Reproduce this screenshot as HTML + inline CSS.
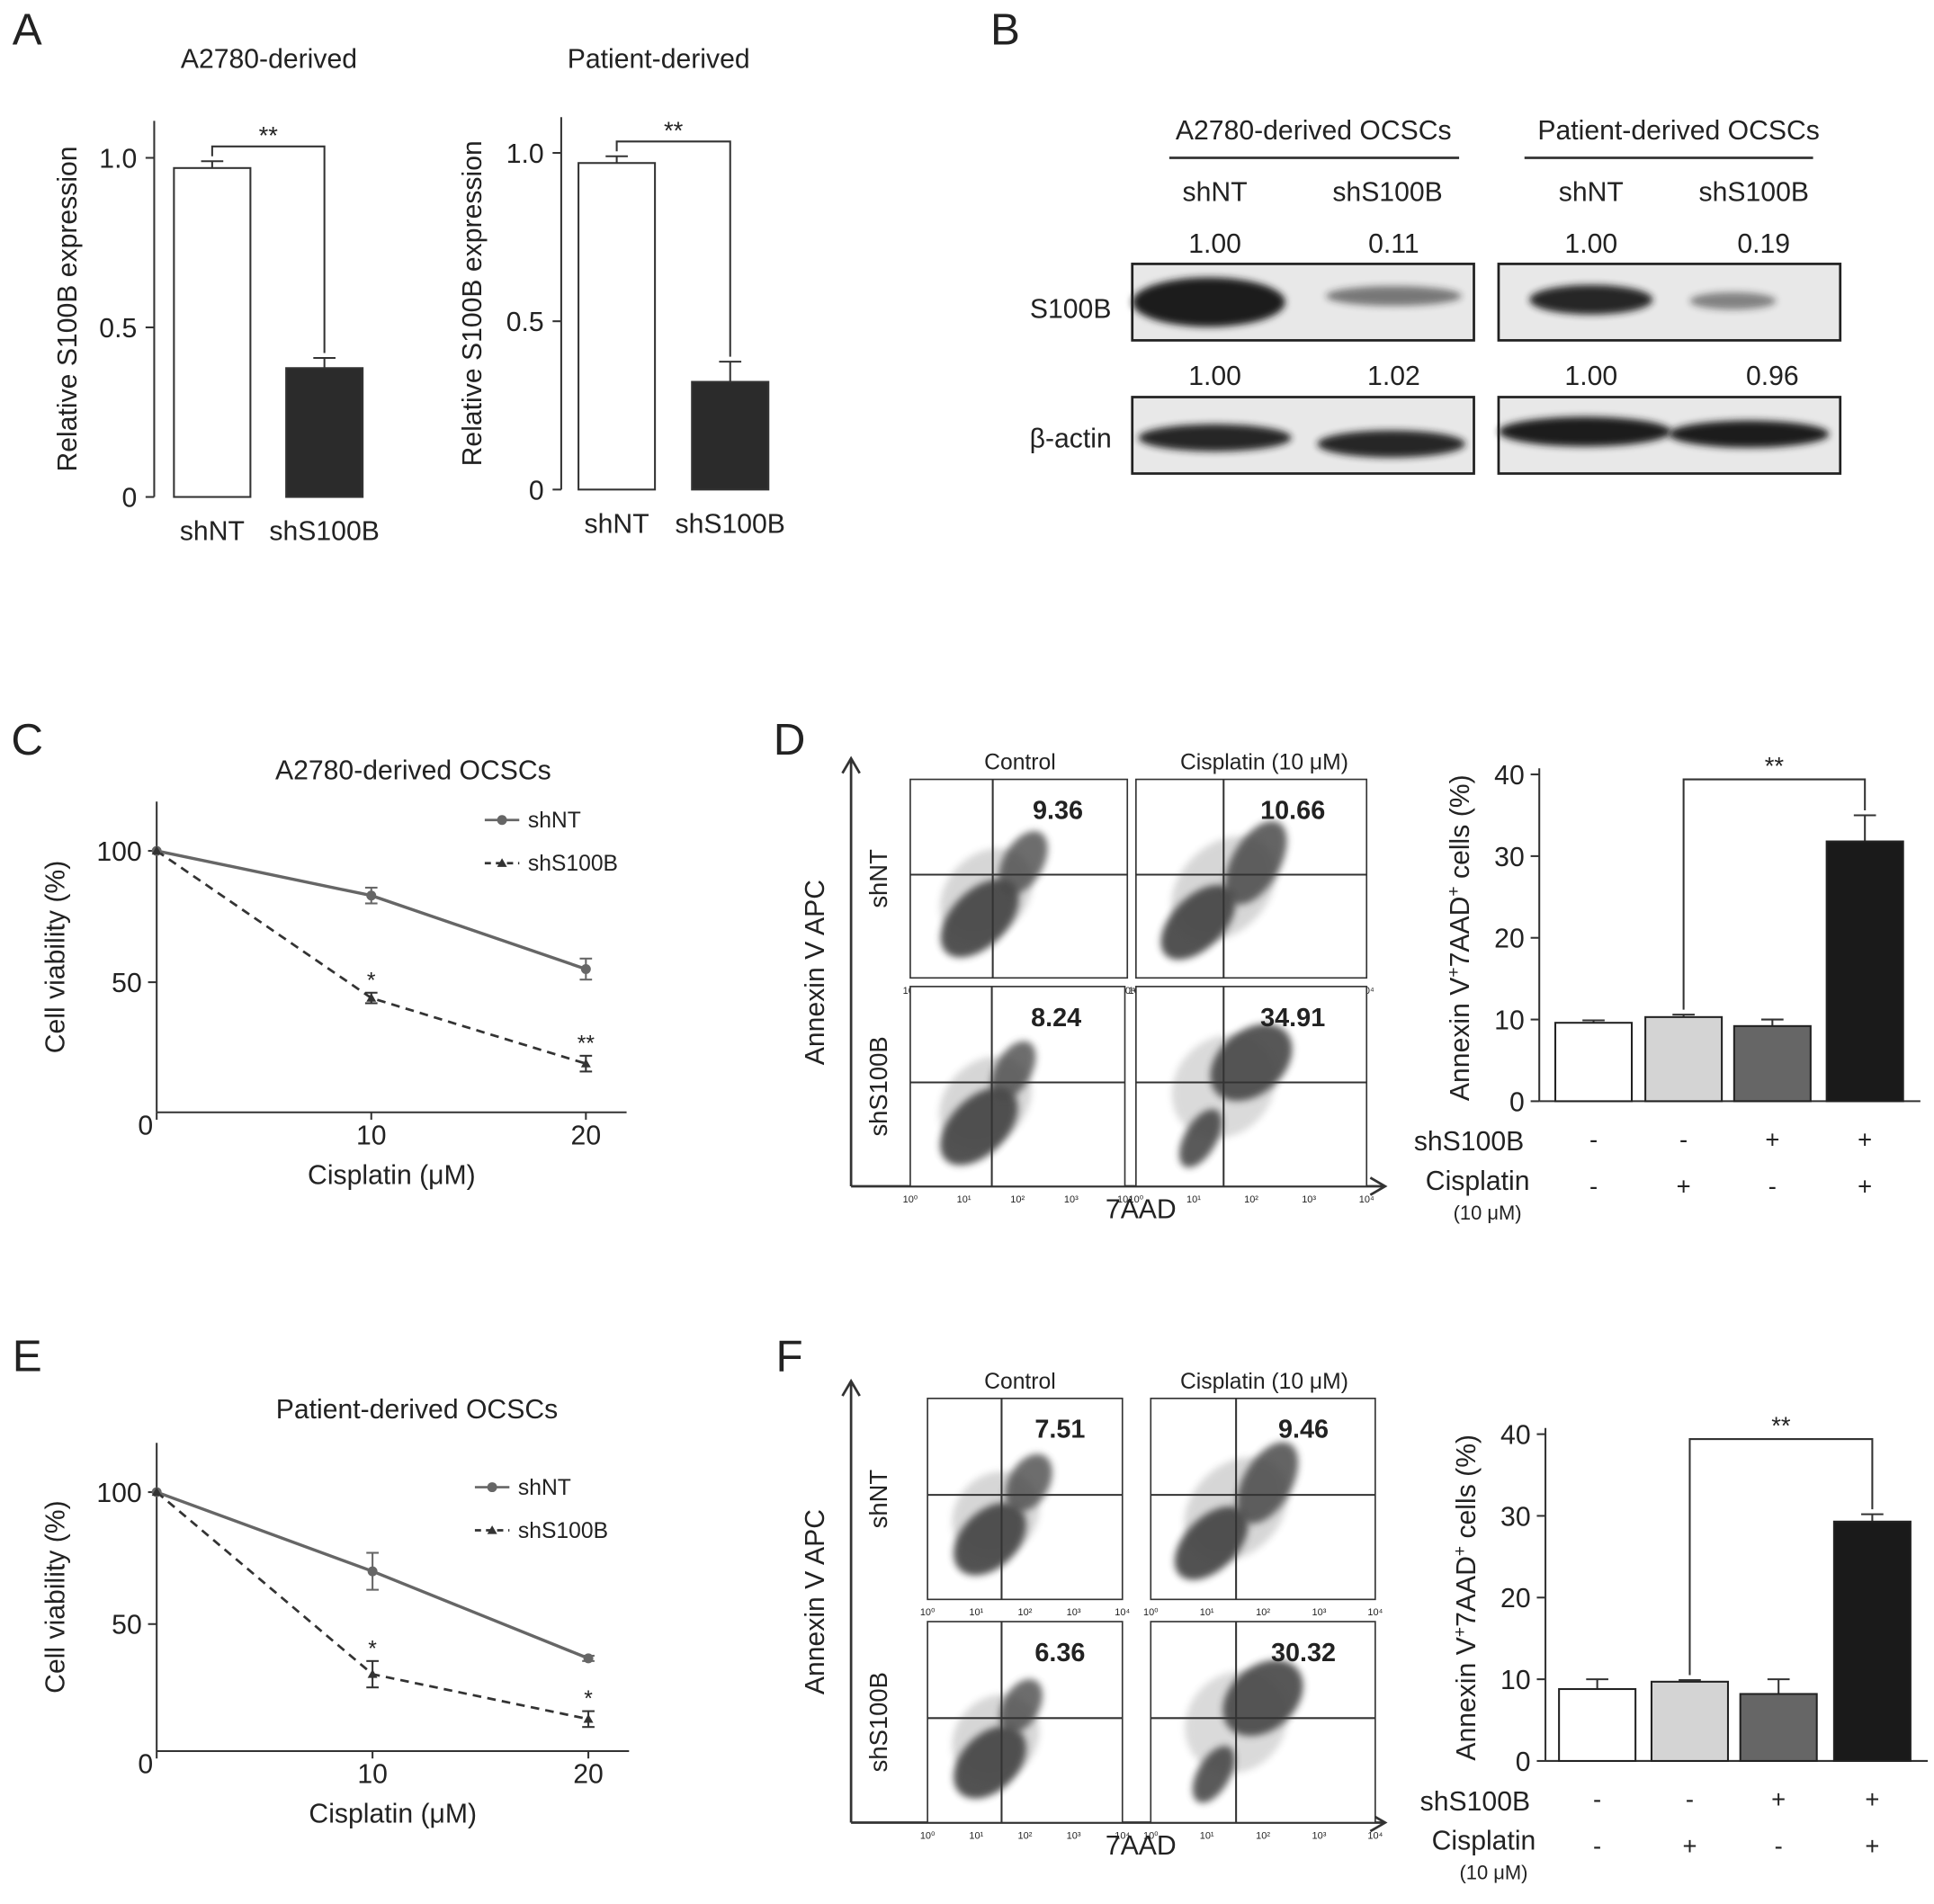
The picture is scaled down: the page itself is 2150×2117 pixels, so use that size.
<!DOCTYPE html>
<html><head><meta charset="utf-8"><style>
html,body{margin:0;padding:0;background:#fff}
svg{display:block}
text{font-family:"Liberation Sans",Arial,sans-serif;fill:#222}
</style></head><body>
<svg id="fig" width="2150" height="2117" viewBox="0 0 1568 1544" xmlns="http://www.w3.org/2000/svg">
<defs>
<filter id="blur" x="-50%" y="-50%" width="200%" height="200%"><feGaussianBlur stdDeviation="3"/></filter>
</defs>
<g id="root"></g>
</svg>
<script>
// ---------- data ----------
const aGroups = ["shNT","shS100B"];
const aA2780 = [0.97, 0.38];
const aA2780Err = [0.02, 0.03];
const aPatient = [0.97, 0.32];
const aPatientErr = [0.02, 0.06];
const aTicks = [0, 0.5, 1.0];
const aTickLabels = ["0","0.5","1.0"];

const blotHeaders = ["shNT","shS100B","shNT","shS100B"];
const blotS100B = ["1.00","0.11","1.00","0.19"];
const blotActin = ["1.00","1.02","1.00","0.96"];

const doses = [0, 10, 20];
const cShNT = [100, 83, 55];
const cShNTErr = [0, 3, 4];
const cShS = [100, 44, 19];
const cShSErr = [0, 2, 3];
const eShNT = [100, 70, 37];
const eShNTErr = [0, 7, 1];
const eShS = [100, 31, 14];
const eShSErr = [0, 5, 3];
const vTicks = [50, 100];

const flowD = ["9.36","10.66","8.24","34.91"];
const flowF = ["7.51","9.46","6.36","30.32"];

const dBars = [9.6, 10.3, 9.2, 31.8];
const dErr = [0.3, 0.3, 0.8, 3.2];
const fBars = [8.8, 9.7, 8.2, 29.3];
const fErr = [1.2, 0.2, 1.8, 0.9];
const pctTicks = [0, 10, 20, 30, 40];
const shSigns = ["-","-","+","+"];
const cisSigns = ["-","+","-","+"];

// ---------- helpers ----------
const NS="http://www.w3.org/2000/svg";
const root=document.getElementById('root');
function el(tag,attrs,parent,txt){const e=document.createElementNS(NS,tag);for(const k in attrs)e.setAttribute(k,attrs[k]);if(txt!==undefined)e.textContent=txt;(parent||root).appendChild(e);return e;}
function line(x1,y1,x2,y2,p,w,c){return el('line',{x1,y1,x2,y2,stroke:c||'#333','stroke-width':w||1.5},p);}
function txt(x,y,s,size,p,extra){const a=Object.assign({x,y,'font-size':size,'text-anchor':'middle'},extra||{});return el('text',a,p,s);}

[["A",22,36],["B",815,36],["C",22,612],["D",640,612],["E",22,1112],["F",640,1112]].forEach(([l,x,y])=>{
  const t=txt(x,y,l,36,root,{'text-anchor':'middle'});
  
  
});

// ---------- Panel A bar charts ----------
function barA(cfg,vals,errs){
  const g=el('g',{});
  
  
  const y=v=>cfg.y0-(v)*(cfg.y0-cfg.y1);
  line(cfg.ax,cfg.top,cfg.ax,cfg.y0,g,1.5);
  aTicks.forEach((t,i)=>{line(cfg.ax-7,y(t),cfg.ax,y(t),g,1.5);txt(cfg.ax-14,y(t)+8,aTickLabels[i],22,g,{'text-anchor':'end'});});
  const xs=cfg.xs;
  vals.forEach((v,i)=>{
    const r=el('rect',{x:xs[i]-31,y:y(v),width:62,height:cfg.y0-y(v),fill:i==0?'#fff':'#2b2b2b',stroke:'#333','stroke-width':1.5},g);
    
    
    line(xs[i],y(v),xs[i],y(v+errs[i]),g,1.5);
    line(xs[i]-9,y(v+errs[i]),xs[i]+9,y(v+errs[i]),g,1.5);
    txt(xs[i],cfg.y0+35,aGroups[i],22,g);
  });
  const by=y(vals[0]+errs[0])-12;
  el('polyline',{points:`${xs[0]},${y(vals[0]+errs[0])-4} ${xs[0]},${by} ${xs[1]},${by} ${xs[1]},${y(vals[1]+errs[1])-4}`,fill:'none',stroke:'#333','stroke-width':1.5},g);
  txt((xs[0]+xs[1])/2,by-2,"**",20,g);
  txt(cfg.titleX,55,cfg.title,22,g);
  txt(0,0,"Relative S100B expression",22,g,{transform:`translate(${cfg.ytx},${(cfg.top+cfg.y0)/2}) rotate(-90)`});
}
barA({name:'a2780-expression-chart',ax:125,top:98,y0:403,y1:128,xs:[172,263],title:'A2780-derived',titleX:218,ytx:62},aA2780,aA2780Err);
barA({name:'patient-expression-chart',ax:455,top:95,y0:397,y1:124,xs:[500,592],title:'Patient-derived',titleX:534,ytx:390},aPatient,aPatientErr);

// ---------- Panel B blot ----------
(function(){
  const g=el('g',{});
  
  
  txt(1065,113,"A2780-derived OCSCs",22,g);
  txt(1361,113,"Patient-derived OCSCs",22,g);
  line(948,128,1183,128,g,2);line(1236,128,1470,128,g,2);
  const cx=[985,1125,1290,1422];
  blotHeaders.forEach((h,i)=>txt(cx[i],163,h,22,g));
  blotS100B.forEach((h,i)=>txt(cx[i]+(i==1?5:i==3?8:0),205,h,22,g));
  blotActin.forEach((h,i)=>txt(cx[i]+(i==1?5:i==3?15:0),312,h,22,g));
  txt(868,258,"S100B",22,g);txt(868,363,"β-actin",22,g);
  [[918,214],[1215,214],[918,322],[1215,322]].forEach(([x,y])=>el('rect',{x,y,width:277,height:62,fill:'#e8e8e8',stroke:'#222','stroke-width':2},g));
  const bands=[[980,245,62,20,1],[1130,240,55,8,0.55],[1290,243,50,12,0.95],[1405,244,35,7,0.5],
               [985,355,62,11,0.95],[1128,360,60,11,0.95],[1285,350,70,12,1],[1418,352,65,11,1]];
  bands.forEach(([x,y,rx,ry,o])=>el('ellipse',{cx:x,cy:y,rx,ry,fill:'#1a1a1a',opacity:o,filter:'url(#blur)'},g));
})();

// ---------- line charts ----------
function lineChart(cfg,nt,ntE,ss,ssE){
  const g=el('g',{});
  
  
  const X=d=>cfg.x0+d*(cfg.x20-cfg.x0)/20;
  const Y=v=>cfg.y0-v*(cfg.y0-cfg.y100)/100;
  line(cfg.x0,cfg.top,cfg.x0,cfg.yAxis,g,1.5);
  line(cfg.x0,cfg.yAxis,cfg.right,cfg.yAxis,g,1.5);
  vTicks.forEach(t=>{line(cfg.x0-7,Y(t),cfg.x0,Y(t),g,1.5);txt(cfg.x0-12,Y(t)+8,String(t),22,g,{'text-anchor':'end'});});
  doses.forEach(d=>{line(X(d),cfg.yAxis,X(d),cfg.yAxis+6,g,1.5);txt(X(d)-(d==0?9:0),cfg.yAxis+(d==0?18:26),String(d),22,g);});
  txt((cfg.x0+cfg.right)/2,cfg.yAxis+58,"Cisplatin (μM)",22,g);
  txt(0,0,"Cell viability (%)",22,g,{transform:`translate(52,${(cfg.top+cfg.yAxis)/2}) rotate(-90)`});
  txt(cfg.titleX,cfg.titleY,cfg.title,22,g);
  const ptsA=doses.map((d,i)=>X(d)+','+Y(nt[i])).join(' ');
  const ptsB=doses.map((d,i)=>X(d)+','+Y(ss[i])).join(' ');
  const la=el('polyline',{points:ptsA,fill:'none',stroke:'#666','stroke-width':2.5},g);
  
  const lb=el('polyline',{points:ptsB,fill:'none',stroke:'#333','stroke-width':2,'stroke-dasharray':'7,5'},g);
  
  doses.forEach((d,i)=>{
    [[nt,ntE,'#666'],[ss,ssE,'#333']].forEach(([v,e,c])=>{
      if(e[i]>0){line(X(d),Y(v[i]+e[i]),X(d),Y(v[i]-e[i]),g,1.5,c);line(X(d)-5,Y(v[i]+e[i]),X(d)+5,Y(v[i]+e[i]),g,1.5,c);line(X(d)-5,Y(v[i]-e[i]),X(d)+5,Y(v[i]-e[i]),g,1.5,c);}
    });
    el('circle',{cx:X(d),cy:Y(nt[i]),r:4,fill:'#666'},g);
    el('path',{d:`M${X(d)-4},${Y(ss[i])+3} L${X(d)+4},${Y(ss[i])+3} L${X(d)},${Y(ss[i])-4} Z`,fill:'#333'},g);
  });
  cfg.stars.forEach((s,i)=>{txt(X(doses[i+1]),Y(ss[i+1]+ssE[i+1])-4,s,18,g);});
  const lg=el('g',{},g);
  
  line(cfg.lx,cfg.ly,cfg.lx+28,cfg.ly,lg,2,'#666');el('circle',{cx:cfg.lx+14,cy:cfg.ly,r:4,fill:'#666'},lg);
  txt(cfg.lx+35,cfg.ly+6,"shNT",18,lg,{'text-anchor':'start'});
  line(cfg.lx,cfg.ly+35,cfg.lx+28,cfg.ly+35,lg,2,'#333').setAttribute('stroke-dasharray','5,4');
  el('path',{d:`M${cfg.lx+10},${cfg.ly+38} L${cfg.lx+18},${cfg.ly+38} L${cfg.lx+14},${cfg.ly+31} Z`,fill:'#333'},lg);
  txt(cfg.lx+35,cfg.ly+41,"shS100B",18,lg,{'text-anchor':'start'});
}
lineChart({name:'a2780-viability-chart',x0:127,x20:475,y0:903,y100:690,top:650,yAxis:902,right:508,title:'A2780-derived OCSCs',titleX:335,titleY:632,lx:393,ly:665,stars:['*','**']},cShNT,cShNTErr,cShS,cShSErr);
lineChart({name:'patient-viability-chart',x0:127,x20:477,y0:1424,y100:1210,top:1170,yAxis:1420,right:510,title:'Patient-derived OCSCs',titleX:338,titleY:1150,lx:385,ly:1206,stars:['*','*']},eShNT,eShNTErr,eShS,eShSErr);

// ---------- flow panels ----------
function flow(cfg,nums){
  const g=el('g',{});
  
  
  line(690,cfg.axBottom,690,cfg.axTop,g,2);
  el('path',{d:`M683,${cfg.axTop+12} L690,${cfg.axTop} L697,${cfg.axTop+12}`,fill:'none',stroke:'#333','stroke-width':2},g);
  line(690,cfg.axBottom,1123,cfg.axBottom,g,2);
  el('path',{d:`M1111,${cfg.axBottom-7} L1123,${cfg.axBottom} L1111,${cfg.axBottom+7}`,fill:'none',stroke:'#333','stroke-width':2},g);
  txt(827,cfg.ct,"Control",18,g);txt(1025,cfg.ct,"Cisplatin (10 μM)",18,g);
  txt(0,0,"Annexin V APC",22,g,{transform:`translate(668,${(cfg.axTop+cfg.axBottom)/2}) rotate(-90)`});
  txt(925,cfg.axBottom+26,"7AAD",22,g);
  txt(0,0,"shNT",20,g,{transform:`translate(719,${(cfg.p[0][1]+cfg.p[0][3])/2}) rotate(-90)`});
  txt(0,0,"shS100B",20,g,{transform:`translate(719,${(cfg.p[2][1]+cfg.p[2][3])/2}) rotate(-90)`});
  cfg.p.forEach(([x1,y1,x2,y2],i)=>{
    const pg=el('g',{},g);
    
    el('rect',{x:x1,y:y1,width:x2-x1,height:y2-y1,fill:'#fff',stroke:'#333','stroke-width':1.2},pg);
    const w=x2-x1,h=y2-y1;
    const vx=x1+w*0.38, hy=y1+h*0.48;
    cfg.clouds[i].forEach(([fx,fy,rx,ry,rot,o])=>el('ellipse',{cx:x1+w*fx,cy:y1+h*fy,rx:w*rx,ry:h*ry,transform:`rotate(${rot} ${x1+w*fx} ${y1+h*fy})`,fill:'#4a4a4a',opacity:o,filter:'url(#blur)'},pg));
    line(vx,y1,vx,y2,pg,1.5);line(x1,hy,x2,hy,pg,1.5);
    txt(x1+w*0.68,y1+32,nums[i],21,pg,{'font-weight':'bold'});
    ["10⁰","10¹","10²","10³","10⁴"].forEach((t,k)=>txt(x1+k*w/4,y2+13,t,8,pg,{fill:'#777'}));
  });
}
const cloudsD=[
 [[0.32,0.7,0.22,0.14,-45,0.95],[0.52,0.42,0.16,0.1,-60,0.8],[0.35,0.58,0.24,0.2,-45,0.22]],
 [[0.27,0.72,0.2,0.13,-45,0.95],[0.52,0.42,0.2,0.12,-60,0.85],[0.38,0.55,0.26,0.22,-45,0.22]],
 [[0.32,0.7,0.22,0.14,-45,0.95],[0.48,0.42,0.15,0.09,-60,0.8],[0.35,0.58,0.24,0.2,-45,0.22]],
 [[0.28,0.76,0.14,0.08,-60,0.9],[0.5,0.38,0.2,0.16,-40,0.92],[0.38,0.5,0.24,0.24,-45,0.2]]];
flow({name:'flow-cytometry-d',axTop:615,axBottom:962,ct:624,p:[[738,632,914,793],[921,632,1108,793],[738,800,912,962],[921,800,1108,962]],clouds:cloudsD},flowD);
flow({name:'flow-cytometry-f',axTop:1120,axBottom:1478,ct:1126,p:[[752,1134,910,1297],[933,1134,1115,1297],[752,1315,910,1478],[933,1315,1115,1478]],clouds:cloudsD},flowF);

// ---------- percent bar charts ----------
function pctChart(cfg,vals,errs){
  const g=el('g',{});
  
  
  const Y=v=>cfg.y0-v*(cfg.y0-cfg.y40)/40;
  line(cfg.ax,cfg.y40-5,cfg.ax,cfg.y0,g,1.5);
  line(cfg.ax,cfg.y0,cfg.xs[3]+45,cfg.y0,g,1.5);
  pctTicks.forEach(t=>{line(cfg.ax-7,Y(t),cfg.ax,Y(t),g,1.5);txt(cfg.ax-12,Y(t)+8,String(t),22,g,{'text-anchor':'end'});});
  const fills=['#fff','#d4d4d4','#666','#1a1a1a'];
  vals.forEach((v,i)=>{
    const x=cfg.xs[i];
    line(x,Y(v),x,Y(v+errs[i]),g,1.5);line(x-9,Y(v+errs[i]),x+9,Y(v+errs[i]),g,1.5);
    const r=el('rect',{x:x-31,y:Y(v),width:62,height:cfg.y0-Y(v),fill:fills[i],stroke:'#222','stroke-width':1.5},g);
    
    
    txt(x,cfg.y0+38,shSigns[i],20,g);
    txt(x,cfg.y0+76,cisSigns[i],20,g);
  });
  const by=Y(40)+4;
  el('polyline',{points:`${cfg.xs[1]},${Y(vals[1]+errs[1])-4} ${cfg.xs[1]},${by} ${cfg.xs[3]},${by} ${cfg.xs[3]},${Y(vals[3]+errs[3])-4}`,fill:'none',stroke:'#333','stroke-width':1.5},g);
  txt((cfg.xs[1]+cfg.xs[3])/2,by-4,"**",20,g);
  txt(cfg.ax-57,cfg.y0+40,"shS100B",22,g);
  txt(cfg.ax-50,cfg.y0+72,"Cisplatin",22,g);
  txt(cfg.ax-42,cfg.y0+96,"(10 μM)",16,g);
  const yt=txt(0,0,"",22,g,{transform:`translate(${cfg.ax-57},${(cfg.y0+cfg.y40)/2}) rotate(-90)`});
  yt.innerHTML='Annexin V<tspan dy="-8" font-size="14">+</tspan><tspan dy="8">7AAD</tspan><tspan dy="-8" font-size="14">+</tspan><tspan dy="8"> cells (%)</tspan>';
}
pctChart({name:'apoptosis-chart-d',ax:1248,y0:893,y40:628,xs:[1292,1365,1437,1512]},dBars,dErr);
pctChart({name:'apoptosis-chart-f',ax:1253,y0:1428,y40:1163,xs:[1295,1370,1442,1518]},fBars,fErr);
</script>
</body></html>
